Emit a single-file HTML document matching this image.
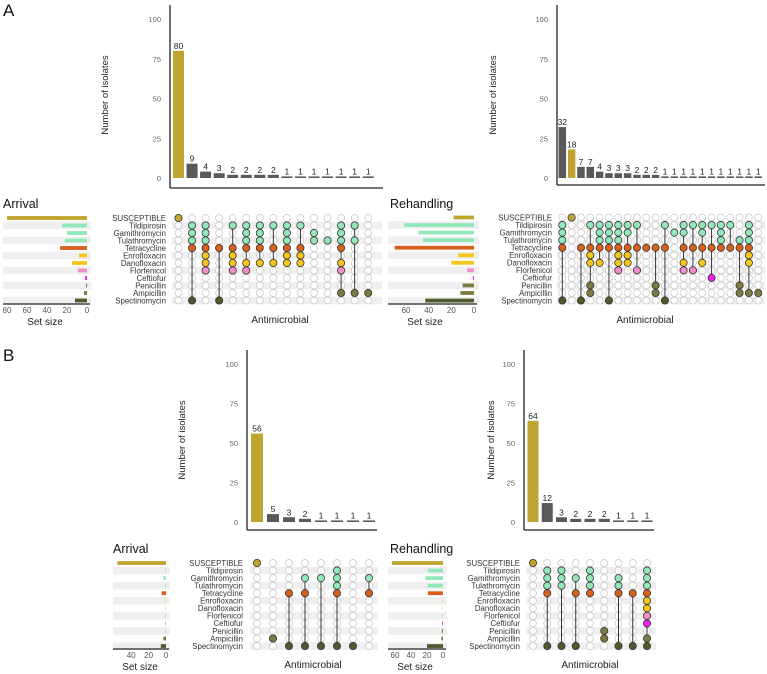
<!DOCTYPE html>
<html><head><meta charset="utf-8"><style>
body{margin:0;background:#fff;}
svg{display:block;font-family:"Liberation Sans",sans-serif;}
</style></head><body>
<svg id="chart" width="767" height="674" viewBox="0 0 767 674">
<text x="3" y="16" font-size="17" fill="#111">A</text>
<text x="3" y="361" font-size="17" fill="#111">B</text>
</svg>
<script>
const setNames = ["SUSCEPTIBLE","Tildipirosin","Gamithromycin","Tulathromycin","Tetracycline","Enrofloxacin","Danofloxacin","Florfenicol","Ceftiofur","Penicillin","Ampicillin","Spectinomycin"];
const setColors = ["#c0a630","#93e8ba","#93e8ba","#93e8ba","#d8601c","#f6c61c","#f6c61c","#f38ccb","#ee22ee","#7d7a42","#7d7a42","#4d5a2b"];
const yTicks = [0,25,50,75,100];

// Panel A - Arrival
const aArrivalCounts = [80,9,4,3,2,2,2,2,1,1,1,1,1,1,1];
const aArrivalSets = [[0],[1,2,3,4,11],[1,2,3,4,5,6,7],[4,11],[1,4,5,6,7],[1,2,3,4,6,7],[1,2,3,4,6],[1,4,6],[1,2,3,4,5,6],[1,4,5,6],[2,3],[3],[1,2,3,4,6,7,10],[1,3,10],[10]];
const aArrivalSizes = [80,25,20,22,27,8,15,9,2,1,3,12];
const aArrivalSizeTicks = [0,20,40,60,80];

// Panel A - Rehandling
const aRehandCounts = [32,18,7,7,4,3,3,3,2,2,2,1,1,1,1,1,1,1,1,1,1,1];
const aRehandSets = [[1,2,3,4,11],[0],[4,11],[1,4,5,6,9,10],[1,2,3,4,6],[1,2,3,4,11],[1,2,3,4,5,6,7],[1,2,4,5,6],[1,4,7],[4],[4,9,10],[1,4,11],[2],[1,2,4,6,7],[1,4,7],[1,2,4,6],[1,4,8],[1,2,3,4],[1,4],[3,4,9,10],[1,2,3,4,5,6,10],[10]];
const aRehandSizes = [18,62,49,45,70,14,20,6,1,10,12,43];
const aRehandSizeTicks = [0,20,40,60];

// Panel B - Arrival
const bArrivalCounts = [56,5,3,2,1,1,1,1];
const bArrivalSets = [[0],[10],[4,11],[2,4,11],[2,11],[1,2,3,4,11],[11],[2,4]];
const bArrivalSizes = [56,1,3,1,5,0.5,0.5,0.5,0.5,0.3,3,6];
const bArrivalSizeTicks = [0,20,40];

// Panel B - Rehandling
const bRehandCounts = [64,12,3,2,2,2,1,1,1];
const bRehandSets = [[0],[1,2,3,4,11],[1,2,3,11],[2,4,11],[1,2,3,4],[9,10],[2,3,4,11],[4,11],[1,2,3,4,5,6,7,8,10,11]];
const bRehandSizes = [64,19,22,19,19,0.5,0.5,0.5,1,1.5,2,20];
const bRehandSizeTicks = [0,20,40,60];

const svg = document.getElementById('chart');
const NS = 'http://www.w3.org/2000/svg';
function mk(tag, attrs, parent){
  const e = document.createElementNS(NS, tag);
  for (const k in attrs) e.setAttribute(k, attrs[k]);
  (parent||svg).appendChild(e);
  return e;
}

function drawPanel(p){
  const g = mk('g', {});
  
  
  const yScale = v => p.zeroY - v * p.pxPerUnit;
  const colX = i => p.col0 + i * p.step;
  const rowY = r => p.rowY0 + r * p.rowStep;
  const sizeX = v => p.sizeZero - v * p.sizeScale;

  // axes
  const ya = mk('line', {x1:p.axX, y1:p.axTop, x2:p.axX, y2:p.axBottom, stroke:'#222', 'stroke-width':1.3}, g);
  
  
  const xa = mk('line', {x1:p.axX, y1:p.axBottom, x2:p.axRight, y2:p.axBottom, stroke:'#222', 'stroke-width':1.3}, g);
  
  
  yTicks.forEach(t => {
    const tl = mk('text', {x:p.axX-9, y:yScale(t)+3, 'font-size':7.5, fill:'#666', 'text-anchor':'end'}, g);
    tl.textContent = t;
    
    
  });
  const yt = mk('text', {x:0, y:0, 'font-size':9.5, fill:'#222', 'text-anchor':'middle', transform:`translate(${p.yTitleX},${p.yTitleY}) rotate(-90)`}, g);
  yt.textContent = 'Number of isolates';
  
  

  // bars
  p.counts.forEach((v, i) => {
    const isSus = p.sets[i].length === 1 && p.sets[i][0] === 0;
    const h = Math.max(v * p.pxPerUnit, 1.5);
    const b = mk('rect', {x:colX(i)-p.barW/2, y:p.zeroY-h, width:p.barW, height:h, fill:isSus?'#bfa530':'#595959'}, g);
    
    
    const lb = mk('text', {x:colX(i), y:p.zeroY-h-2, 'font-size':8.5, fill:'#222', 'text-anchor':'middle'}, g);
    lb.textContent = v;
    
    
  });

  // stripes
  for (let r = 0; r < setNames.length; r++) {
    if (r % 2 === 0) continue;
    const s1 = mk('rect', {x:p.sizeStripe0, y:rowY(r)-p.rowStep/2, width:p.sizeStripe1-p.sizeStripe0, height:p.rowStep, fill:'#efefef'}, g);
    
    
    const s2 = mk('rect', {x:p.matStripe0, y:rowY(r)-p.rowStep/2, width:p.matStripe1-p.matStripe0, height:p.rowStep, fill:'#efefef'}, g);
    
    
  }

  // row labels and set size bars
  setNames.forEach((n, r) => {
    const t = mk('text', {x:p.labelRight, y:rowY(r)+2.8, 'font-size':7.8, fill:'#333', 'text-anchor':'end'}, g);
    t.textContent = n;
    
    
    const v = p.sizes[r];
    const b = mk('rect', {x:sizeX(v), y:rowY(r)-1.9, width:v*p.sizeScale, height:3.8, fill:setColors[r]}, g);
    
    
  });
  const sa = mk('line', {x1:p.sizeAxis0, y1:p.sizeAxisY, x2:p.sizeZero+3, y2:p.sizeAxisY, stroke:'#222', 'stroke-width':1.3}, g);
  
  
  p.sizeTicks.forEach(t => {
    const tl = mk('text', {x:sizeX(t), y:p.sizeAxisY+9, 'font-size':8, fill:'#555', 'text-anchor':'middle'}, g);
    tl.textContent = t;
    
    
  });
  const st = mk('text', {x:p.sizeTitleX, y:p.sizeAxisY+21, 'font-size':10, fill:'#222', 'text-anchor':'middle'}, g);
  st.textContent = 'Set size';
  
  
  const at = mk('text', {x:p.antiX, y:p.sizeAxisY+19, 'font-size':10, fill:'#222', 'text-anchor':'middle'}, g);
  at.textContent = 'Antimicrobial';
  
  
  const tt = mk('text', {x:p.titleX, y:p.titleY, 'font-size':12.5, fill:'#111'}, g);
  tt.textContent = p.title;
  
  

  // matrix
  p.sets.forEach((mem, i) => {
    const x = colX(i);
    for (let r = 0; r < setNames.length; r++) {
      const c = mk('circle', {cx:x, cy:rowY(r), r:3.5, fill:'#fff', stroke:'#c4c4c4', 'stroke-width':0.7}, g);
      
      
    }
    const mn = Math.min(...mem), mx = Math.max(...mem);
    if (mx > mn) {
      const l = mk('line', {x1:x, y1:rowY(mn), x2:x, y2:rowY(mx), stroke:'#333', 'stroke-width':1}, g);
      
      
    }
    mem.forEach(r => {
      const c = mk('circle', {cx:x, cy:rowY(r), r:3.6, fill:setColors[r], stroke:'#333', 'stroke-width':0.8}, g);
      
      
    });
  });
}

drawPanel({name:'panel-a-arrival', title:'Arrival', titleX:3, titleY:208,
  counts:aArrivalCounts, sets:aArrivalSets, sizes:aArrivalSizes, sizeTicks:aArrivalSizeTicks,
  axX:170, axTop:5, axBottom:188, axRight:383, zeroY:178, pxPerUnit:1.59,
  col0:178.5, step:13.55, barW:11, rowY0:218, rowStep:7.5, labelRight:166,
  sizeZero:87, sizeScale:1.0, sizeStripe0:3, sizeStripe1:91, matStripe0:172, matStripe1:382,
  sizeAxis0:3, sizeAxisY:304, sizeTitleX:45, antiX:280, yTitleX:108, yTitleY:95});

drawPanel({name:'panel-a-rehandling', title:'Rehandling', titleX:390, titleY:208,
  counts:aRehandCounts, sets:aRehandSets, sizes:aRehandSizes, sizeTicks:aRehandSizeTicks,
  axX:557, axTop:5, axBottom:185, axRight:765, zeroY:178, pxPerUnit:1.59,
  col0:562.3, step:9.33, barW:7.5, rowY0:217.5, rowStep:7.55, labelRight:552,
  sizeZero:474, sizeScale:1.133, sizeStripe0:388, sizeStripe1:479, matStripe0:557, matStripe1:765,
  sizeAxis0:388, sizeAxisY:304, sizeTitleX:425, antiX:645, yTitleX:496, yTitleY:95});

drawPanel({name:'panel-b-arrival', title:'Arrival', titleX:113, titleY:553,
  counts:bArrivalCounts, sets:bArrivalSets, sizes:bArrivalSizes, sizeTicks:bArrivalSizeTicks,
  axX:247, axTop:350, axBottom:530, axRight:377, zeroY:522, pxPerUnit:1.58,
  col0:257, step:16, barW:12, rowY0:563, rowStep:7.55, labelRight:243,
  sizeZero:166, sizeScale:0.87, sizeStripe0:113, sizeStripe1:170, matStripe0:250, matStripe1:378,
  sizeAxis0:113, sizeAxisY:649, sizeTitleX:140, antiX:313, yTitleX:185, yTitleY:440});

drawPanel({name:'panel-b-rehandling', title:'Rehandling', titleX:390, titleY:553,
  counts:bRehandCounts, sets:bRehandSets, sizes:bRehandSizes, sizeTicks:bRehandSizeTicks,
  axX:524, axTop:350, axBottom:530, axRight:654, zeroY:522, pxPerUnit:1.58,
  col0:533, step:14.25, barW:11, rowY0:563, rowStep:7.55, labelRight:520,
  sizeZero:443, sizeScale:0.8, sizeStripe0:388, sizeStripe1:447, matStripe0:526, matStripe1:656,
  sizeAxis0:388, sizeAxisY:649, sizeTitleX:415, antiX:590, yTitleX:494, yTitleY:440});
</script>
</body></html>
